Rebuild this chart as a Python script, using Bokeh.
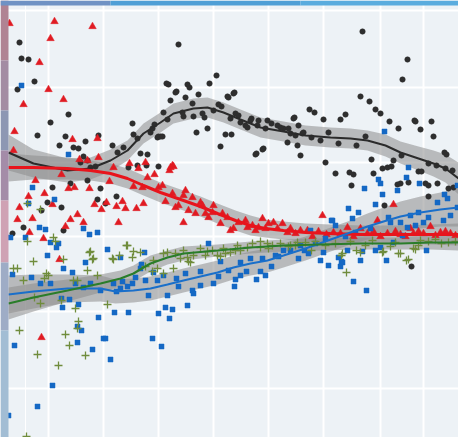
from bokeh.plotting import figure
from bokeh.models import Range1d, Grid, FixedTicker, BoxAnnotation
from bokeh.embed import file_html
from bokeh.resources import INLINE

# ---- data (x to the right, y downward as in the image) ----
grid_x = [48, 103, 158, 213, 268, 323, 380, 423]
grid_x_minor = [25]
grid_y = [10, 87, 162, 236, 311, 388]

black_pts = [(19,42),(21,58),(28,59),(34,81),(17,89),(50,122),(68,114),(37,135),(59,145),(65,136),
 (73,147),(78,148),(85,141),(98,135),(112,145),(132,123),(133,134),(137,138),(147,154),(140,153),
 (123,147),(117,152),(83,156),(80,162),(87,160),(90,167),(95,166),(128,167),(137,165),(146,165),
 (70,183),(87,180),(100,188),(97,199),(105,203),(116,196),(52,187),(47,202),(61,207),(41,210),
 (23,227),(12,233),(63,230),(178,44),(166,83),(168,84),(176,91),(187,84),(189,87),(209,83),
 (216,75),(227,96),(233,93),(170,100),(185,97),(198,94),(175,92),(163,112),(183,116),(193,116),
 (204,117),(213,110),(221,106),(152,128),(154,124),(160,136),(157,137),(196,132),(207,128),(220,146),
 (225,134),(231,134),(167,119),(192,103),(218,104),(182,112),(202,113),(230,118),(235,113),(240,122),
 (247,127),(250,120),(257,125),(267,120),(265,128),(277,125),(283,128),(290,133),(293,118),(298,125),
 (302,133),(287,142),(297,145),(300,155),(256,153),(263,148),(158,136),(162,136),(150,132),(158,166),
 (362,31),(407,59),(402,79),(228,97),(234,92),(255,154),(262,149),(309,109),(314,112),(294,117),
 (323,119),(340,119),(345,114),(360,96),(369,101),(375,109),(380,113),(389,121),(398,128),(414,120),
 (415,121),(431,121),(420,129),(433,136),(444,152),(446,154),(325,162),(335,173),(349,172),(353,174),
 (351,185),(371,159),(373,173),(382,168),(387,167),(391,166),(393,160),(397,184),(400,183),(408,182),
 (418,171),(421,171),(425,183),(428,185),(437,183),(448,188),(453,187),(428,196),(384,205),(411,266),
 (238,115),(245,125),(251,118),(258,120),(271,123),(280,127),(288,128),(295,135),(303,132),(311,137),
 (320,140),(328,132),(338,143),(356,145),(365,136),(401,155),(428,163),(436,165),(445,168),(452,170)]

red_pts = [(9,23),(54,21),(50,38),(92,26),(39,62),(48,89),(23,104),(63,99),(14,131),(13,150),
 (72,139),(97,138),(79,159),(87,160),(98,157),(113,167),(129,163),(138,168),(145,162),(154,174),
 (172,165),(169,170),(35,180),(61,174),(68,188),(74,187),(89,188),(109,181),(147,177),(133,186),
 (142,187),(28,196),(44,193),(52,204),(19,207),(17,219),(32,218),(29,232),(43,238),(70,219),
 (77,214),(83,222),(65,226),(94,204),(101,209),(106,202),(116,206),(122,201),(125,208),(136,208),
 (143,203),(118,222),(59,259),(41,337),(170,167),(173,166),(158,187),(162,185),(165,201),(172,193),
 (175,207),(178,205),(183,195),(185,190),(188,210),(192,197),(195,213),(200,202),(202,205),(205,213),
 (208,217),(212,212),(213,205),(220,223),(222,213),(227,217),(230,230),(233,228),(238,222),(245,220),
 (247,227),(252,225),(255,230),(258,227),(262,218),(265,228),(268,223),(273,222),(277,228),(282,223),
 (287,232),(290,228),(295,233),(300,230),(183,222),(322,215),(393,204),(347,227),(360,228),(377,220),
 (430,226),(410,228),(307,230),(333,232),(340,233),(367,233),(387,233),(400,234),(413,233),(423,233),
 (440,232),(450,233),(312,236),(318,231),(326,234),(353,236),(373,231),(380,236),(395,231),(405,236),
 (418,231),(435,235),(445,231),(455,235)]

blue_pts = [(21,85),(68,154),(32,187),(54,199),(28,203),(39,227),(45,229),(25,237),(10,237),(50,242),
 (58,243),(56,247),(47,255),(63,268),(72,272),(83,228),(89,234),(97,232),(107,249),(120,257),
 (144,252),(85,262),(12,274),(31,277),(62,307),(69,299),(78,304),(77,326),(81,330),(98,317),
 (114,312),(128,312),(152,338),(103,338),(100,290),(113,283),(120,288),(132,283),(135,277),(140,268),
 (153,272),(145,280),(83,287),(90,283),(75,283),(50,283),(40,283),(141,264),(157,280),(163,275),
 (176,278),(185,273),(200,271),(208,243),(220,261),(218,276),(213,283),(228,270),(200,285),(192,290),
 (193,293),(178,286),(167,295),(148,295),(127,286),(122,281),(116,291),(61,298),(158,313),(165,307),
 (172,309),(169,318),(187,305),(77,342),(105,338),(92,349),(110,359),(161,346),(14,345),(52,385),
 (37,406),(8,415),(331,220),(234,286),(235,279),(256,279),(265,275),(260,271),(271,266),(246,271),
 (278,256),(283,250),(298,258),(308,253),(320,260),(328,265),(338,257),(341,261),(340,266),(353,281),
 (360,260),(366,290),(362,251),(386,260),(426,250),(384,131),(408,167),(406,177),(378,179),(380,183),
 (419,183),(364,188),(397,190),(382,194),(444,194),(447,198),(437,202),(375,204),(348,208),(358,212),
 (332,220),(352,218),(388,217),(410,215),(418,212),(428,217),(450,215),(443,220),(400,222),(423,222),
 (415,225),(335,225),(457,207),(457,185),(310,230),(304,250),(323,252),(347,250),(342,262),(375,250),
 (380,247),(393,242),(402,235),(407,227),(240,262),(250,258),(262,258),(275,255),(290,250),(300,245),
 (315,243),(325,238),(345,236),(355,232),(370,228),(390,222),(240,275)]

green_pts = [(13,268),(17,268),(23,280),(33,261),(44,278),(46,273),(48,275),(53,237),(55,241),(27,241),
 (34,297),(40,303),(61,300),(75,308),(63,259),(73,280),(77,280),(87,270),(90,251),(92,259),
 (97,275),(107,304),(113,259),(119,255),(126,245),(132,257),(133,251),(140,252),(145,266),(152,271),
 (157,268),(163,253),(173,268),(180,258),(183,250),(188,261),(193,255),(200,248),(207,251),(212,250),
 (220,256),(225,253),(19,330),(78,321),(77,328),(65,334),(69,345),(37,354),(85,355),(58,365),
 (26,436),(27,203),(40,209),(89,252),(93,258),(112,258),(127,245),(153,260),(167,252),(175,253),
 (187,257),(190,262),(205,255),(217,255),(223,248),(230,252),(237,245),(240,250),(247,247),(252,243),
 (260,247),(267,243),(272,245),(280,243),(290,245),(297,242),(163,273),(235,250),(260,241),(268,248),
 (288,246),(295,245),(311,250),(325,245),(341,255),(346,272),(356,250),(365,245),(383,251),(390,246),
 (400,253),(406,260),(408,259),(413,248),(418,245),(428,241),(441,243),(455,241),(342,253),(382,252),
 (398,253),(415,249),(360,252),(305,242),(315,241),(335,243),(350,241),(372,240),(395,242),(420,240),
 (435,239),(448,242)]

# smoothed fits (x, fitted y, band half-width)
black_fit_x = [8, 33, 67, 90, 110, 127, 143, 160, 173, 193, 207, 223, 240, 260, 283, 305, 330, 350, 367, 385, 400, 418, 433, 445, 458]
black_fit_y = [152, 163, 170, 168, 160, 150, 133, 122, 113, 108, 107, 112, 119, 127, 131, 135, 137, 138, 140, 145, 152, 158, 163, 168, 178]
black_fit_se = [18, 14, 12, 11, 11, 10, 10, 10, 10, 10, 10, 10, 10, 10, 10, 10, 10, 10, 10, 11, 11, 12, 13, 14, 16]

red_fit_x = [8, 33, 67, 90, 110, 127, 143, 160, 183, 200, 217, 235, 250, 265, 283, 305, 330, 360, 400, 430, 458]
red_fit_y = [167, 167, 168, 170, 173, 178, 185, 192, 200, 206, 213, 220, 225, 228, 230, 232, 233, 234, 234, 234, 234]
red_fit_se = [14, 12, 11, 10, 10, 10, 10, 10, 10, 10, 10, 10, 10, 9, 9, 9, 9, 9, 9, 10, 11]

blue_fit_x = [8, 33, 67, 100, 115, 133, 150, 167, 183, 200, 217, 233, 250, 267, 283, 305, 333, 350, 367, 383, 400, 420, 440, 458]
blue_fit_y = [294, 291, 288, 288, 291, 290, 288, 284, 280, 276, 272, 267, 263, 260, 255, 248, 238, 232, 226, 221, 216, 212, 209, 207]
blue_fit_se = [19, 17, 14, 13, 12, 12, 12, 12, 12, 12, 12, 12, 12, 12, 12, 12, 12, 12, 13, 14, 15, 16, 17, 19]

green_fit_x = [8, 33, 67, 100, 120, 133, 143, 150, 167, 183, 217, 250, 283, 320, 360, 400, 430, 458]
green_fit_y = [303, 297, 290, 283, 278, 273, 267, 263, 257, 253, 250, 247, 245, 244, 243, 243, 242, 242]
green_fit_se = [16, 14, 11, 9, 8, 8, 8, 8, 7, 7, 6, 6, 6, 6, 6, 6, 7, 8]

W, H = 458, 437

# ---- figure: frame covers the whole canvas, 1 data unit = 1 px ----
p = figure(width=W, height=H, x_range=Range1d(0, W), y_range=Range1d(H, 0),
           output_backend="svg", toolbar_location=None,
           x_axis_location=None, y_axis_location=None,
           min_border=0,
           background_fill_color="#edf2f6", border_fill_color="#edf2f6",
           outline_line_color=None)
p.grid.visible = False

p.add_layout(Grid(dimension=0, ticker=FixedTicker(ticks=grid_x), grid_line_color="white", grid_line_width=2))
p.add_layout(Grid(dimension=0, ticker=FixedTicker(ticks=grid_x_minor), grid_line_color="white", grid_line_width=1))
p.add_layout(Grid(dimension=1, ticker=FixedTicker(ticks=grid_y), grid_line_color="white", grid_line_width=2))

def unzip(pts):
    return [a for a, _ in pts], [b for _, b in pts]

fits = [(black_fit_x, black_fit_y, black_fit_se, "#2b2b2b", 2),
        (red_fit_x, red_fit_y, red_fit_se, "#e8141c", 3),
        (blue_fit_x, blue_fit_y, blue_fit_se, "#1a6fca", 2),
        (green_fit_x, green_fit_y, green_fit_se, "#2a7d2a", 2.2)]

for fx, fy, se, col, lw in fits:
    p.varea(x=fx, y1=[a - s for a, s in zip(fy, se)], y2=[a + s for a, s in zip(fy, se)],
            fill_color="#8c8c8c", fill_alpha=0.55)

bx, by = unzip(black_pts)
p.scatter(bx, by, marker="circle", size=5.5, fill_color="#2e2e2e", line_color="#2e2e2e", line_width=0.5)
rx, ry = unzip(red_pts)
p.scatter(rx, ry, marker="triangle", size=7.5, fill_color="#e01b22", line_color="#e01b22", line_width=0.5)
ux, uy = unzip(blue_pts)
p.scatter(ux, uy, marker="square", size=5, fill_color="#1568c4", line_color="#1568c4", line_width=0.5)
gx, gy = unzip(green_pts)
p.scatter(gx, gy, marker="cross", size=8, line_color="#6f8c3c", line_width=1.3)

for fx, fy, se, col, lw in fits:
    p.line(fx, fy, line_color=col, line_width=lw)

# decorative photo edges of the scanned picture (left and top strips)
for (t, b, c) in [(0, 60, "#b08393"), (60, 110, "#a38ca3"), (110, 150, "#8d97b3"), (150, 200, "#a48ca8"),
                  (200, 262, "#cfa2b4"), (262, 330, "#9eacc6"), (330, 437, "#a2bdd4")]:
    p.add_layout(BoxAnnotation(left=0, right=8, top=t, bottom=b, fill_color=c, fill_alpha=1,
                               line_color=None, level="overlay"))
for (l, r, c) in [(0, 110, "#6f92c4"), (110, 300, "#4e9fd6"), (300, 458, "#5aacde")]:
    p.add_layout(BoxAnnotation(left=l, right=r, top=0, bottom=5, fill_color=c, fill_alpha=1,
                               line_color=None, level="overlay"))

open("out.html", "w").write(file_html(p, INLINE))
